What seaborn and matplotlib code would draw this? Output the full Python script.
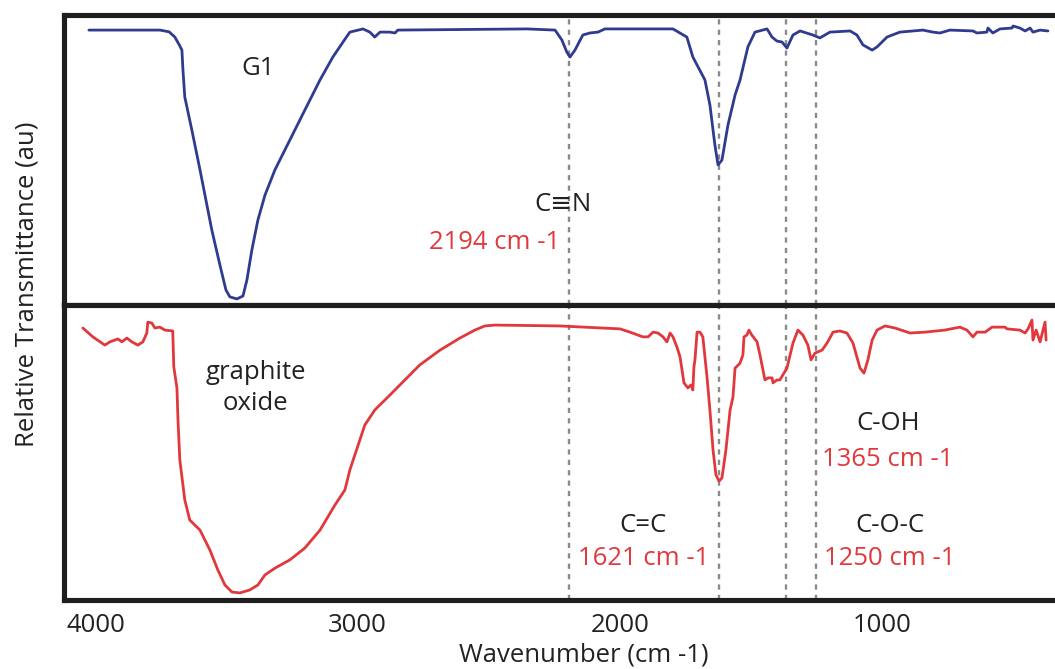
import matplotlib
matplotlib.use("Agg")
import matplotlib.pyplot as plt
import seaborn as sns
import pandas as pd

# ---- spectra (wavenumber in cm-1, relative transmittance in %) ----
g1_wavenumber = [4026, 3755, 3720, 3698, 3680, 3671, 3667, 3660, 3633, 3602, 3557, 3526, 3503, 3488,
                 3461, 3438, 3423, 3404, 3381, 3354, 3316, 3259, 3202, 3144, 3095, 3050, 3030,
                 2980, 2954, 2935, 2915, 2877, 2858, 2847, 2354, 2247, 2221, 2202, 2190,
                 2171, 2141, 2114, 2083, 2057, 1797, 1744, 1721, 1675, 1656, 1637, 1625,
                 1610, 1587, 1560, 1541, 1511, 1484, 1438, 1419, 1400, 1381, 1362, 1339,
                 1312, 1263, 1236, 1198, 1121, 1095, 1072, 1037, 1018, 980, 931, 843,
                 805, 778, 740, 652, 637, 599, 595, 576, 549, 503, 499, 473, 453, 434,
                 423, 396, 366]
g1_transmittance = [94.8, 94.8, 94.2, 92.4, 89.5, 87.9, 81.0, 71.7, 60.3, 46.6, 25.9, 13.8, 5.2, 2.8,
                    2.1, 3.1, 8.6, 19.0, 29.3, 37.9, 46.6, 56.9, 67.2, 77.6, 85.5, 91.5, 94.1,
                    95.2, 94.1, 92.4, 94.1, 94.1, 93.8, 94.8, 95.2, 94.8, 91.4, 87.2, 85.5,
                    87.9, 93.1, 93.8, 94.1, 95.2, 95.2, 92.4, 85.5, 77.6, 69.0, 55.2, 48.3,
                    50.0, 62.1, 72.4, 77.6, 89.0, 94.1, 95.2, 92.4, 91.0, 90.7, 88.6, 93.1,
                    94.5, 93.1, 92.1, 94.1, 94.5, 93.1, 89.7, 87.9, 89.0, 92.4, 94.1, 94.8,
                    94.1, 93.8, 94.8, 94.5, 93.8, 94.1, 95.5, 93.8, 95.2, 95.5, 96.2, 95.5,
                    94.5, 95.5, 94.1, 94.8, 94.5]

go_wavenumber = [4049, 4011, 3965, 3946, 3915, 3900, 3881, 3862, 3839, 3820, 3805, 3801,
                 3786, 3774, 3755, 3736, 3706, 3702, 3690, 3686, 3679, 3660, 3641, 3602,
                 3564, 3534, 3507, 3480, 3450, 3412, 3381, 3354, 3316, 3259, 3202, 3144,
                 3087, 3049, 3030, 3011, 2973, 2935, 2877, 2820, 2763, 2686, 2610, 2553,
                 2515, 2476, 2228, 1999, 1961, 1912, 1892, 1873, 1854, 1835, 1820, 1808,
                 1797, 1782, 1770, 1755, 1740, 1728, 1721, 1717, 1713, 1705, 1694, 1683,
                 1667, 1656, 1644, 1633, 1621, 1610, 1595, 1579, 1568, 1560, 1541, 1530,
                 1526, 1515, 1507, 1496, 1476, 1465, 1446, 1434, 1419, 1415, 1400, 1389,
                 1362, 1339, 1320, 1301, 1282, 1270, 1255, 1228, 1209, 1186, 1160, 1133,
                 1110, 1083, 1068, 1053, 1037, 1018, 988, 950, 892, 835, 759, 702,
                 675, 652, 637, 606, 579, 530, 522, 473, 453, 442, 427, 423,
                 411, 396, 377, 373]
go_transmittance = [92.2, 89.2, 86.4, 87.5, 88.5, 87.5, 88.8, 87.5, 86.4, 87.5, 90.5, 94.2,
                    93.9, 92.2, 92.5, 91.5, 91.2, 79.0, 71.9, 61.0, 47.5, 33.9, 27.1, 23.7,
                    16.9, 10.2, 5.1, 2.7, 2.4, 3.4, 5.1, 8.5, 10.8, 13.6, 17.6, 23.7,
                    32.2, 37.3, 44.1, 49.2, 59.3, 64.4, 69.5, 74.6, 79.7, 84.7, 88.8, 91.5,
                    92.9, 93.2, 92.9, 91.9, 90.8, 89.2, 89.2, 90.8, 90.5, 89.2, 87.5, 90.5,
                    89.2, 85.8, 82.4, 73.6, 71.9, 72.9, 71.2, 79.0, 81.4, 90.8, 90.8, 89.2,
                    75.6, 64.4, 50.8, 42.4, 40.3, 41.4, 50.8, 64.4, 68.8, 78.6, 80.3, 83.1,
                    89.2, 89.8, 91.5, 89.8, 87.5, 83.1, 74.6, 75.3, 75.3, 73.6, 74.6, 74.6,
                    78.6, 87.1, 91.5, 89.8, 86.4, 81.4, 83.7, 84.7, 87.1, 90.8, 91.2, 90.5,
                    87.1, 78.6, 76.9, 81.4, 88.1, 91.5, 92.9, 92.2, 90.5, 90.8, 91.5, 92.5,
                    91.5, 89.2, 90.8, 90.8, 92.5, 92.5, 91.9, 91.5, 90.5, 91.9, 94.9, 88.1,
                    91.5, 87.5, 94.2, 88.1]

# marked band positions (cm-1)
band_positions = [2194, 1621, 1365, 1250]
x_ticks = [4000, 3000, 2000, 1000]

BLUE = "#2e3b8e"
RED = "#e0383d"
TEXT_RED = "#e0393e"
INK = "#222222"
FONT = "Open Sans"
FS = 18.5

sns.set_theme(style="white")
plt.rcParams["font.family"] = [FONT, "DejaVu Sans"]

fig = plt.figure(figsize=(10.55, 6.69), dpi=100)
W, H = 1055, 669
left = 64 / W
ax_top = fig.add_axes([left, 1 - 305 / H, 1 - left, (305 - 15) / H])
ax_bot = fig.add_axes([left, 1 - 600 / H, 1 - left, (600 - 305) / H], sharex=ax_top)

g1 = pd.DataFrame({"wavenumber": g1_wavenumber, "T": g1_transmittance})
go = pd.DataFrame({"wavenumber": go_wavenumber, "T": go_transmittance})

sns.lineplot(data=g1, x="wavenumber", y="T", ax=ax_top, sort=False, estimator=None,
             color=BLUE, linewidth=2.0)
sns.lineplot(data=go, x="wavenumber", y="T", ax=ax_bot, sort=False, estimator=None,
             color=RED, linewidth=2.0)

x_min, x_max = 4121, 339
for ax in (ax_top, ax_bot):
    ax.set_xlim(x_min, x_max)
    ax.set_ylim(0, 100)
    ax.set_ylabel("")
    ax.set_xlabel("")
    ax.set_yticks([])
    for wn in band_positions:
        ax.axvline(wn, color="#8a8a8a", linestyle=(0, (2.2, 2.2)), linewidth=1.7, zorder=1)
    for side in ("top", "left", "bottom"):
        ax.spines[side].set_visible(True)
        ax.spines[side].set_color("#1e1e1e")
        ax.spines[side].set_linewidth(3.7)
    ax.spines["right"].set_visible(False)

ax_top.tick_params(axis="x", which="both", bottom=False, labelbottom=False)
ax_bot.set_xticks(x_ticks)
ax_bot.set_xticklabels([str(t) for t in x_ticks])
ax_bot.tick_params(axis="x", length=0, pad=9, labelsize=FS, labelcolor=INK)

ax_bot.set_xlabel("Wavenumber (cm -1)", fontsize=FS, color=INK)
ax_bot.xaxis.set_label_coords((584 - 64) / (W - 64), -0.145)
fig.text(27 / W, 1 - 284 / H, "Relative Transmittance (au)", rotation=90,
         ha="center", va="center", fontsize=FS, color=INK)

txt = dict(ha="center", va="center", fontsize=FS)
ax_top.text(3381, 81.7, "G1", color=INK, **txt)
ax_top.text(2217, 34.5, "C\u2261N", color=INK, **txt)
ax_top.text(2476, 21.7, "2194 cm -1", color=TEXT_RED, **txt)

ax_bot.text(3389, 71.9, "graphite\noxide", color=INK, linespacing=1.3, **txt)
ax_bot.text(976, 59.7, "C-OH", color=INK, **txt)
ax_bot.text(976, 47.5, "1365 cm -1", color=TEXT_RED, **txt)
ax_bot.text(1912, 25.4, "C=C", color=INK, **txt)
ax_bot.text(1908, 14.2, "1621 cm -1", color=TEXT_RED, **txt)
ax_bot.text(969, 25.4, "C-O-C", color=INK, **txt)
ax_bot.text(969, 14.2, "1250 cm -1", color=TEXT_RED, **txt)

fig.savefig("out.png", dpi=100)
